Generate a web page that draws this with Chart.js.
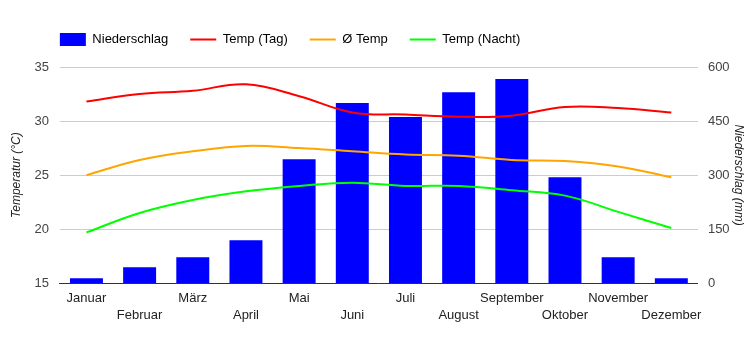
<!DOCTYPE html>
<html>
<head>
<meta charset="utf-8">
<script src="https://cdn.jsdelivr.net/npm/chart.js@4"></script>
<style>
  html, body { margin: 0; padding: 0; background: #fff; }
  #wrap { width: 750px; height: 350px; }
</style>
</head>
<body>
<div id="wrap"><canvas id="klimaChart" width="750" height="350"></canvas></div>
<script>
// Monate und Werte
const months = ['Januar', 'Februar', 'März', 'April', 'Mai', 'Juni', 'Juli', 'August', 'September', 'Oktober', 'November', 'Dezember'];
const niederschlag = [14, 44, 72, 119, 344, 500, 461, 530, 567, 294, 72, 14];
const tempTag = [31.8, 32.5, 32.8, 33.4, 32.3, 30.8, 30.6, 30.4, 30.5, 31.3, 31.2, 30.8];
const tempMittel = [25.0, 26.4, 27.2, 27.7, 27.5, 27.2, 26.9, 26.8, 26.4, 26.3, 25.8, 24.8];
const tempNacht = [19.7, 21.5, 22.7, 23.5, 24.0, 24.3, 24.0, 24.0, 23.6, 23.1, 21.6, 20.1];
const tempTicks = [15, 20, 25, 30, 35];
const regenTicks = [0, 150, 300, 450, 600];

const font = 'Arial, "Liberation Sans", sans-serif';
Chart.defaults.font.family = font;
Chart.defaults.font.size = 13;
Chart.defaults.color = '#444';

function lineSet(label, data, color) {
    return {
        type: 'line',
        label: label,
        data: data,
        borderColor: color,
        backgroundColor: color,
        borderWidth: 2,
        pointRadius: 0,
        tension: 0.4,
        yAxisID: 'y',
        order: 0
    };
}

// Legende an den Rand der Zeichenfläche schieben und etwas anheben
const legendShift = {
    id: 'legendShift',
    afterLayout(chart) {
        chart.legend.left = chart.chartArea.left - 22;
        chart.legend.top -= 11;
    }
};

const ctx = document.getElementById('klimaChart').getContext('2d');
new Chart(ctx, {
    data: {
        labels: months,
        datasets: [
            {
                type: 'bar',
                label: 'Niederschlag',
                data: niederschlag,
                backgroundColor: '#0000ff',
                yAxisID: 'y1',
                barPercentage: 0.62,
                categoryPercentage: 1.0,
                order: 1
            },
            lineSet('Temp (Tag)', tempTag, '#ff0000'),
            lineSet('Ø Temp', tempMittel, '#ffa500'),
            lineSet('Temp (Nacht)', tempNacht, '#00ff00')
        ]
    },
    options: {
        responsive: false,
        animation: false,
        layout: {
            padding: { top: 22, bottom: 19, left: 9, right: 4 }
        },
        plugins: {
            tooltip: { enabled: false },
            legend: {
                position: 'top',
                align: 'start',
                fullSize: false,
                labels: {
                    usePointStyle: true,
                    pointStyleWidth: 26,
                    boxWidth: 26,
                    boxHeight: 13,
                    padding: 22,
                    color: '#222',
                    sort: (a, b) => a.datasetIndex - b.datasetIndex,
                    generateLabels(chart) {
                        return chart.data.datasets.map((ds, i) => ({
                            text: ds.label,
                            datasetIndex: i,
                            fillStyle: ds.backgroundColor,
                            strokeStyle: ds.type === 'bar' ? ds.backgroundColor : ds.borderColor,
                            lineWidth: ds.type === 'bar' ? 0 : 2,
                            pointStyle: ds.type === 'bar' ? 'rect' : 'line',
                            hidden: false
                        }));
                    }
                }
            }
        },
        scales: {
            x: {
                grid: { display: false, drawTicks: false },
                border: { display: true, color: '#333', width: 1 },
                ticks: {
                    autoSkip: false,
                    maxRotation: 0,
                    padding: 7,
                    color: '#222',
                    font: { lineHeight: 1.3 },
                    callback(value, index) {
                        const name = months[index];
                        return index % 2 === 0 ? [name] : ['', name];
                    }
                }
            },
            y: {
                position: 'left',
                min: 15,
                max: 35,
                afterBuildTicks(axis) {
                    axis.ticks = tempTicks.map(v => ({ value: v }));
                },
                grid: { color: '#cccccc', drawTicks: false },
                border: { display: false },
                ticks: { padding: 11 },
                title: {
                    display: true,
                    text: 'Temperatur (°C)',
                    color: '#222',
                    font: { size: 12, style: 'italic' },
                    padding: { top: 0, bottom: 0 }
                }
            },
            y1: {
                position: 'right',
                min: 0,
                max: 600,
                afterBuildTicks(axis) {
                    axis.ticks = regenTicks.map(v => ({ value: v }));
                },
                grid: { display: false, drawTicks: false },
                border: { display: false },
                ticks: { padding: 10 },
                title: {
                    display: true,
                    text: 'Niederschlag (mm)',
                    color: '#222',
                    font: { size: 12, style: 'italic' },
                    padding: { top: 0, bottom: -8 }
                }
            }
        }
    },
    plugins: [legendShift]
});
</script>
</body>
</html>
